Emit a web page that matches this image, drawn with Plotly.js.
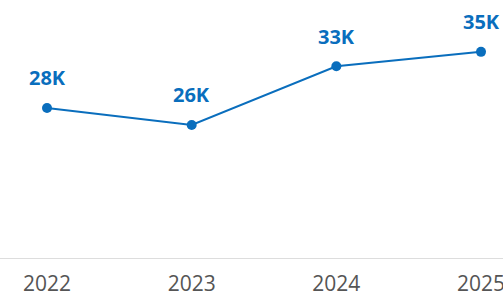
<!DOCTYPE html>
<html><head><meta charset="utf-8">
<script src="https://cdn.plot.ly/plotly-3.0.1.min.js"></script>
<style>html,body{margin:0;padding:0;background:#fff;}#chart{width:503px;height:293px;}</style>
</head><body><div id="chart"></div>
<script>
const years = ["2022", "2023", "2024", "2025"];
const visitors = [28.0, 26.0, 32.9, 34.6];
const labels = visitors.map(v => Math.round(v) + "K");

const blue = "#0A6EBD";
const trace = {
  x: years, y: visitors, type: "scatter", mode: "lines+markers",
  line: {color: blue, width: 2}, marker: {color: blue, size: 10},
  hoverinfo: "none"
};
const annotations = years.map((yr, i) => ({
  x: i, y: visitors[i], xref: "x", yref: "y", text: "<b>" + labels[i] + "</b>",
  showarrow: false, yanchor: "middle", xanchor: "center", yshift: 30,
  font: {family: "Open Sans", size: 20, color: blue}
}));
Plotly.newPlot("chart", [trace], {
  width: 503, height: 293,
  margin: {l: 0, r: 0, t: 0, b: 35},
  paper_bgcolor: "#fff", plot_bgcolor: "#fff",
  showlegend: false,
  xaxis: {type: "category", range: [-0.325, 3.152], showgrid: false, zeroline: false,
    showline: true, linecolor: "#dddddd", linewidth: 1,
    ticks: "outside", ticklen: 7, tickcolor: "rgba(0,0,0,0)",
    tickfont: {family: "Open Sans", size: 21, color: "#555555"}},
  yaxis: {range: [10.35, 40.7], visible: false, showgrid: false, zeroline: false},
  annotations: annotations
}, {displayModeBar: false});
</script></body></html>
